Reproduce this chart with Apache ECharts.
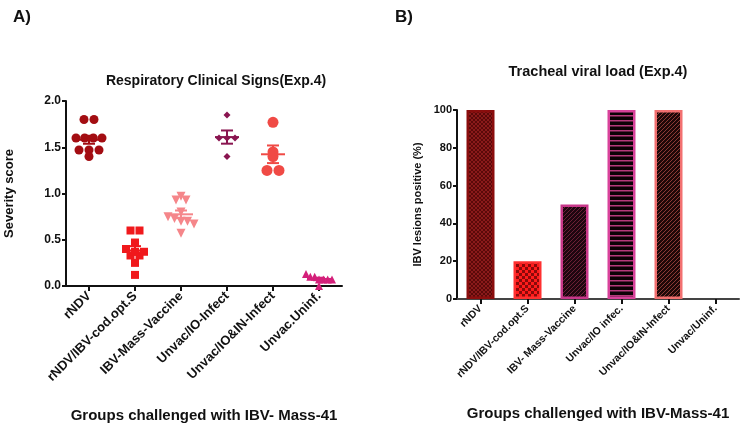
<!DOCTYPE html>
<html><head><meta charset="utf-8">
<script src="https://cdn.jsdelivr.net/npm/echarts@6/dist/echarts.min.js"></script>
<style>html,body{margin:0;padding:0;background:#fff}#c{width:750px;height:427px}</style>
</head><body><div id="c"></div>
<script>
// ---------- DATA ----------
const groupsA = ['rNDV','rNDV/IBV-cod.opt.S','IBV-Mass-Vaccine','Unvac/IO-Infect','Unvac/IO&IN-Infect','Unvac.Uninf.'];
const scoreRNDV = [1.8,1.8,1.6,1.6,1.6,1.6,1.47,1.47,1.47,1.4];
const scoreRNDVIBV = [0.6,0.6,0.47,0.4,0.37,0.37,0.33,0.33,0.25,0.12];
const scoreMassVac = [0.97,0.93,0.93,0.8,0.75,0.73,0.7,0.7,0.67,0.57];
const scoreIO = [1.85,1.6,1.6,1.6,1.4];
const scoreIOIN = [1.77,1.45,1.4,1.25,1.25];
const scoreUninf = [0.07,0.07,0.1,0.13,0.1,0.07,0.07,0.0];
const ticksA = [0,0.5,1.0,1.5,2.0];

const groupsB = ['rNDV','rNDV/IBV-cod.opt.S','IBV- Mass-Vaccine','Unvac/IO infec.','Unvac/IO&IN-Infect','Unvac/Uninf.'];
const positiveB = [100,20,50,100,100,0];
const ticksB = [0,20,40,60,80,100];

// ---------- STYLE ----------
const FONT = '"Liberation Sans", Arial, sans-serif';
const colorsA = ['#a30d12','#f0191c','#f5868a','#8a1550','#f04a45','#d4207a'];
const symbolsA = ['circle','rect','triangle','diamond','circle','triangle'];
const rotA = [0,0,180,0,0,0];
const sizesA = [9,8,9,7,11,8];
const allScores = [scoreRNDV,scoreRNDVIBV,scoreMassVac,scoreIO,scoreIOIN,scoreUninf];

function makePattern(kind, bg, fg){
  const c = document.createElement('canvas');
  const s = kind==='check'?6:(kind==='hline'?5:4);
  c.width = s; c.height = s;
  const g = c.getContext('2d');
  g.fillStyle = bg; g.fillRect(0,0,s,s);
  g.fillStyle = fg; g.strokeStyle = fg; g.lineWidth = 1;
  if(kind==='check'){ g.fillRect(0,0,3,3); g.fillRect(3,3,3,3); }
  else if(kind==='hline'){ g.fillRect(0,0,s,1.5); }
  else if(kind==='diag'){ g.beginPath(); g.moveTo(0,s); g.lineTo(s,0); g.moveTo(-1,1); g.lineTo(1,-1); g.moveTo(s-1,s+1); g.lineTo(s+1,s-1); g.stroke(); }
  else if(kind==='cross'){ g.beginPath(); g.moveTo(0,s); g.lineTo(s,0); g.moveTo(0,0); g.lineTo(s,s); g.stroke(); }
  return {image:c, repeat:'repeat'};
}
const barFills = [
  makePattern('cross','#5a0909','#8a1a1a'),
  makePattern('check','#ff1c1c','#8a0a0a'),
  makePattern('diag','#1e0610','#6a2035'),
  makePattern('hline','#0c0206','#b43a7a'),
  makePattern('diag','#1e0808','#8a3a35'),
  'transparent'
];
const barBorders = ['#8a0d0d','#ff3030','#c8378a','#d8429a','#f27070','transparent'];

// ---------- scatter with simple jitter ----------
const scatterSeries = allScores.map((arr,gi)=>{
  const sorted = arr.slice().sort((a,b)=>b-a);
  const rows = [];
  sorted.forEach(v=>{
    const last = rows[rows.length-1];
    if(last && Math.abs(last[last.length-1]-v) <= 0.035) last.push(v); else rows.push([v]);
  });
  const data = [];
  rows.forEach(r=>{
    const sp = r.length>1 ? Math.min(sizesA[gi]+1, 26/(r.length-1)) : 0;
    r.forEach((v,i)=>{
      data.push({value:[gi,v], symbolOffset:[(i-(r.length-1)/2)*sp,0]});
    });
  });
  return {
    type:'scatter', xAxisIndex:0, yAxisIndex:0, data,
    symbol:symbolsA[gi], symbolSize:sizesA[gi], symbolRotate:rotA[gi],
    itemStyle:{color:colorsA[gi], opacity:1}, z:3
  };
});

const stats = allScores.map(arr=>{
  const n = arr.length, m = arr.reduce((a,b)=>a+b,0)/n;
  const sd = Math.sqrt(arr.reduce((a,b)=>a+(b-m)*(b-m),0)/(n-1));
  return [m, sd/Math.sqrt(n)];
});
const errSeries = {
  type:'custom', xAxisIndex:0, yAxisIndex:0, z:4,
  data: stats.map((s,i)=>[i,s[0],s[1]]),
  renderItem:(params, api)=>{
    const i = api.value(0), m = api.value(1), se = api.value(2);
    const pm = api.coord([i,m]), ph = api.coord([i,m+se]), pl = api.coord([i,m-se]);
    const col = colorsA[i];
    const W = 12, w = 6;
    const st = {stroke:col, lineWidth:2};
    return {type:'group', children:[
      {type:'line', shape:{x1:pm[0]-W,y1:pm[1],x2:pm[0]+W,y2:pm[1]}, style:st},
      {type:'line', shape:{x1:pm[0],y1:ph[1],x2:pm[0],y2:pl[1]}, style:st},
      {type:'line', shape:{x1:pm[0]-w,y1:ph[1],x2:pm[0]+w,y2:ph[1]}, style:st},
      {type:'line', shape:{x1:pm[0]-w,y1:pl[1],x2:pm[0]+w,y2:pl[1]}, style:st}
    ]};
  }
};

const axisCommon = {
  axisLine:{show:true, lineStyle:{color:'#111', width:2}},
  axisTick:{show:true, length:4, lineStyle:{color:'#111', width:2}},
  splitLine:{show:false}
};

const option = {
  animation:false,
  backgroundColor:'#fff',
  title:[
    {text:'A)', left:8, top:4, textStyle:{fontFamily:FONT, fontWeight:'bold', fontSize:17, color:'#111'}},
    {text:'Respiratory Clinical Signs(Exp.4)', left:211, top:69, textAlign:'center', textStyle:{fontFamily:FONT, fontWeight:'bold', fontSize:14, color:'#111'}},
    {text:'B)', left:390, top:4, textStyle:{fontFamily:FONT, fontWeight:'bold', fontSize:17, color:'#111'}},
    {text:'Tracheal viral load (Exp.4)', left:593, top:59, textAlign:'center', textStyle:{fontFamily:FONT, fontWeight:'bold', fontSize:14.5, color:'#111'}}
  ],
  grid:[
    {left:66, right:408, top:101, bottom:141},
    {left:457, right:11, top:110, bottom:128}
  ],
  xAxis:[
    Object.assign({}, axisCommon, {
      type:'category', gridIndex:0, data:groupsA, boundaryGap:true,
      axisTick:{show:true, alignWithLabel:true, length:5, lineStyle:{color:'#111', width:2}},
      axisLabel:{rotate:45, interval:0, margin:8, fontFamily:FONT, fontWeight:'bold', fontSize:13, color:'#111'},
      name:'Groups challenged with IBV- Mass-41', nameLocation:'middle', nameGap:122,
      nameTextStyle:{fontFamily:FONT, fontWeight:'bold', fontSize:15, color:'#111'}
    }),
    Object.assign({}, axisCommon, {
      type:'category', gridIndex:1, data:groupsB, boundaryGap:true,
      axisTick:{show:true, alignWithLabel:true, length:5, lineStyle:{color:'#111', width:2}},
      axisLabel:{rotate:45, interval:0, margin:8, fontFamily:FONT, fontWeight:'bold', fontSize:10.5, color:'#111'},
      axisLine:{show:true, lineStyle:{color:'#444', width:2}},
      name:'Groups challenged with IBV-Mass-41', nameLocation:'middle', nameGap:107,
      nameTextStyle:{fontFamily:FONT, fontWeight:'bold', fontSize:15, color:'#111'}
    })
  ],
  yAxis:[
    Object.assign({}, axisCommon, {
      type:'value', gridIndex:0, min:ticksA[0], max:ticksA[ticksA.length-1], interval:0.5,
      axisLabel:{fontFamily:FONT, fontWeight:'bold', fontSize:12, color:'#111', margin:5,
        formatter:v=>v.toFixed(1)},
      name:'Severity score', nameLocation:'middle', nameGap:50, nameRotate:90,
      nameTextStyle:{fontFamily:FONT, fontWeight:'bold', fontSize:13, color:'#111'}
    }),
    Object.assign({}, axisCommon, {
      type:'value', gridIndex:1, min:ticksB[0], max:ticksB[ticksB.length-1], interval:20,
      axisLabel:{fontFamily:FONT, fontWeight:'bold', fontSize:11, color:'#111', margin:5},
      name:'IBV lesions positive (%)', nameLocation:'middle', nameGap:34, nameRotate:90,
      nameTextStyle:{fontFamily:FONT, fontWeight:'bold', fontSize:11, color:'#111'}
    })
  ],
  series:[
    ...scatterSeries,
    errSeries,
    {
      type:'bar', xAxisIndex:1, yAxisIndex:1, barWidth:28,
      data: positiveB.map((v,i)=>({value:v, itemStyle:{color:barFills[i], borderColor:barBorders[i], borderWidth:2.5}}))
    }
  ]
};
const chart = echarts.init(document.getElementById('c'), null, {renderer:'canvas'});
chart.setOption(option);
</script></body></html>
